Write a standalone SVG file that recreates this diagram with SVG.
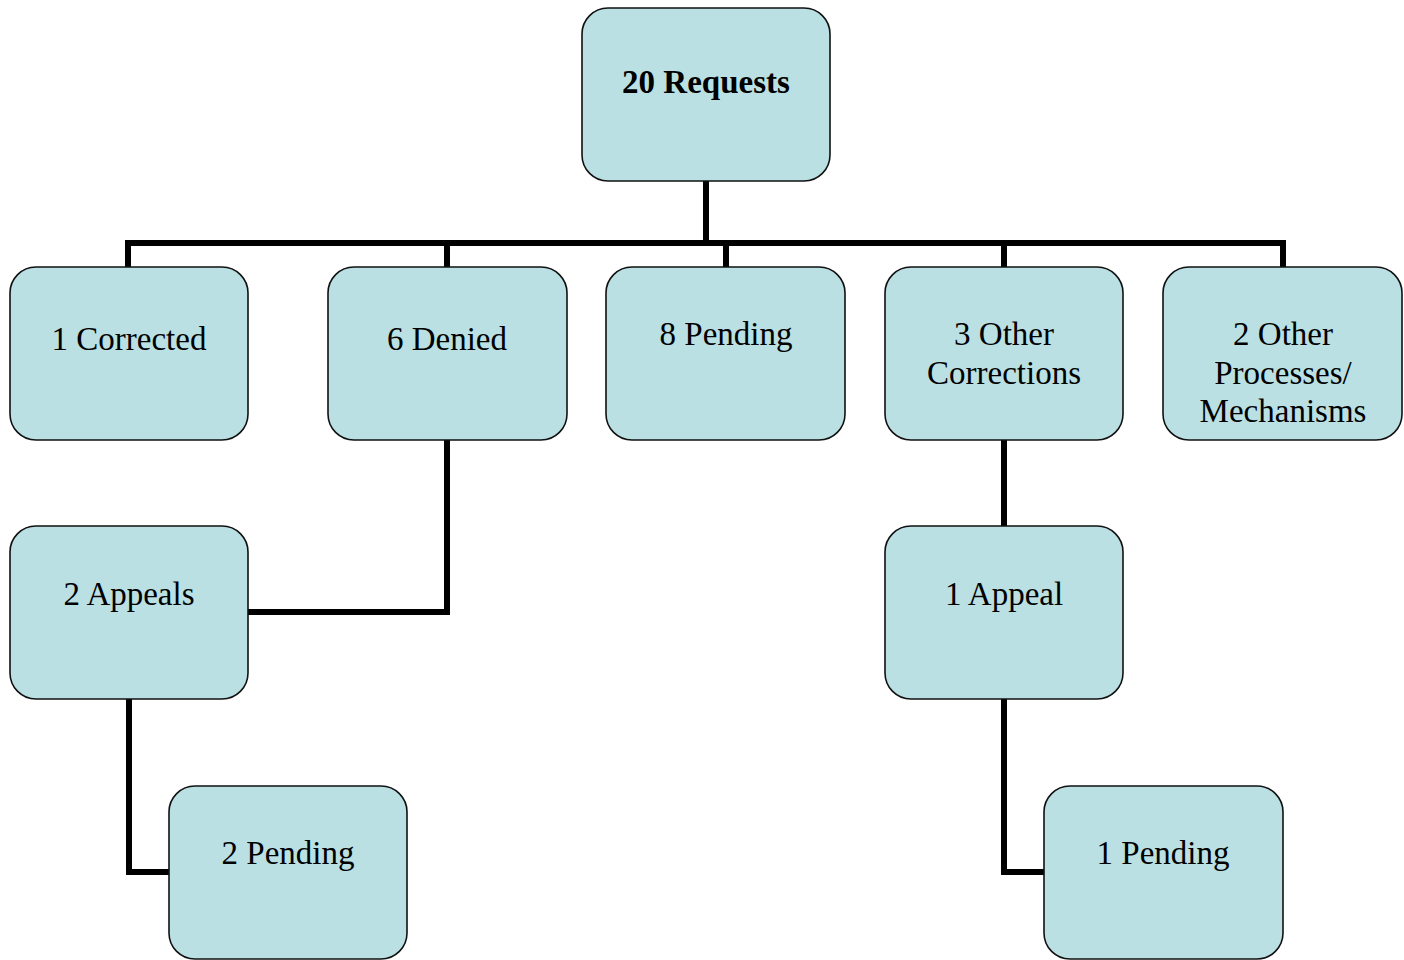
<svg xmlns="http://www.w3.org/2000/svg" width="1404" height="960" viewBox="0 0 1404 960">
<style>
.box{fill:#BAE0E3;stroke:#111;stroke-width:1.6}
.lbl{font-family:"Liberation Serif","Times New Roman",serif;font-size:33px;fill:#000;text-anchor:middle}
.b{font-weight:bold}
.conn{fill:none;stroke:#000;stroke-width:6;stroke-linejoin:miter;stroke-linecap:butt}
</style>
<rect width="1404" height="960" fill="#fff"/>
<g id="connectors">
<path class="conn" d="M706 181V243"/>
<path class="conn" d="M128 267V243H1283V267"/>
<path class="conn" d="M447 243V267"/>
<path class="conn" d="M726 243V267"/>
<path class="conn" d="M1004 243V267"/>
<path class="conn" d="M447 440V612H248"/>
<path class="conn" d="M129 699V872H169"/>
<path class="conn" d="M1004 440V526"/>
<path class="conn" d="M1004 699V872H1044"/>
</g>
<g id="n-requests"><rect class="box" x="582" y="8" width="248" height="173" rx="26"/><text class="lbl b" x="706" y="93">20 Requests</text></g>
<g id="n-corrected"><rect class="box" x="10" y="267" width="238" height="173" rx="26"/><text class="lbl" x="129" y="350">1 Corrected</text></g>
<g id="n-denied"><rect class="box" x="328" y="267" width="239" height="173" rx="26"/><text class="lbl" x="447" y="350">6 Denied</text></g>
<g id="n-pending8"><rect class="box" x="606" y="267" width="239" height="173" rx="26"/><text class="lbl" x="726" y="345">8 Pending</text></g>
<g id="n-othercorr"><rect class="box" x="885" y="267" width="238" height="173" rx="26"/><text class="lbl" x="1004" y="345">3 Other</text><text class="lbl" x="1004" y="383.5">Corrections</text></g>
<g id="n-otherproc"><rect class="box" x="1163" y="267" width="239" height="173" rx="26"/><text class="lbl" x="1283" y="345">2 Other</text><text class="lbl" x="1283" y="383.5">Processes/</text><text class="lbl" x="1283" y="422">Mechanisms</text></g>
<g id="n-appeals2"><rect class="box" x="10" y="526" width="238" height="173" rx="26"/><text class="lbl" x="129" y="605">2 Appeals</text></g>
<g id="n-appeal1"><rect class="box" x="885" y="526" width="238" height="173" rx="26"/><text class="lbl" x="1004" y="605">1 Appeal</text></g>
<g id="n-pending2"><rect class="box" x="169" y="786" width="238" height="173" rx="26"/><text class="lbl" x="288" y="864">2 Pending</text></g>
<g id="n-pending1"><rect class="box" x="1044" y="786" width="239" height="173" rx="26"/><text class="lbl" x="1163" y="864">1 Pending</text></g>
</svg>
